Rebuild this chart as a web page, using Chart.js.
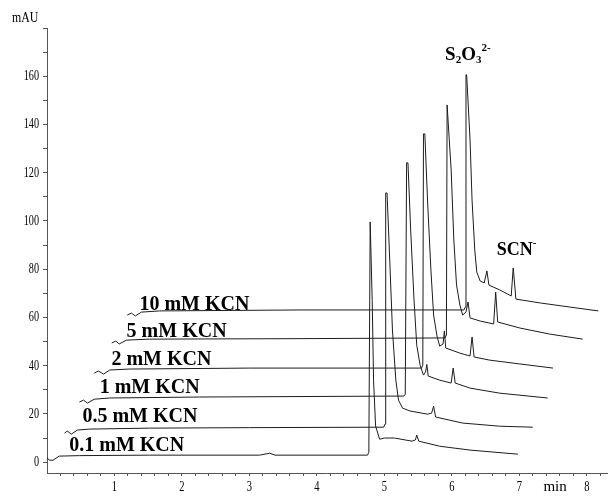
<!DOCTYPE html>
<html>
<head>
<meta charset="utf-8">
<script src="https://cdn.jsdelivr.net/npm/chart.js@4.4.1/dist/chart.umd.min.js"></script>
<style>
  html, body { margin: 0; padding: 0; background: #fff; }
  #wrap { width: 610px; height: 502px; }
  canvas { display: block; }
</style>
</head>
<body>
<div id="wrap"><canvas id="c" width="610" height="502"></canvas></div>
<script>
// KCN concentrations (mM), one chromatogram each, stacked bottom to top
const concentrations = ['0.1', '0.5', '1', '2', '5', '10'];

// Chromatograms: [retention time (min), absorbance (mAU)]
const trace01 = [[0.00,1.7],[0.04,0.8],[0.09,0.8],[0.18,2.5],[0.48,2.7],[1.52,2.9],[3.15,2.9],[3.30,3.7],[3.38,2.9],[4.75,2.9],[4.77,4.1],[4.79,99.6],[4.80,99.6],[4.82,67],[4.84,34],[4.87,15],[4.93,9.5],[5.00,10],[5.15,10],[5.41,8.7],[5.46,9.2],[5.48,11.2],[5.51,8.7],[5.82,6.6],[6.27,5.0],[6.98,3.3]];
const trace05 = [[0.26,12.0],[0.30,12.9],[0.36,11.6],[0.45,13.3],[0.63,13.7],[1.52,14.1],[3.00,14.3],[4.99,14.5],[5.01,15.8],[5.02,111.6],[5.04,111.6],[5.08,83.8],[5.12,54.8],[5.17,34],[5.21,25.7],[5.27,22.4],[5.38,21.2],[5.64,19.9],[5.70,20.3],[5.73,23.2],[5.76,18.7],[5.97,17.4],[6.16,16.2],[6.71,14.9],[7.20,14.5]];
const trace1 = [[0.48,24.9],[0.54,25.7],[0.60,24.5],[0.70,26.1],[0.93,26.6],[2.26,27.0],[5.29,27.4],[5.31,28.2],[5.33,124.1],[5.35,124.1],[5.39,96.3],[5.44,67.2],[5.48,48.5],[5.53,40.2],[5.58,36.1],[5.61,37.3],[5.63,40.5],[5.65,35.7],[5.82,34],[5.99,32.8],[6.02,39],[6.05,32.8],[6.27,30.7],[6.71,28.6],[7.42,26.6]];
const trace2 = [[0.70,36.9],[0.76,37.8],[0.84,36.5],[0.93,38.2],[1.22,38.6],[3.00,39.0],[5.55,39.0],[5.57,40.2],[5.58,136.1],[5.60,136.1],[5.64,108.7],[5.69,79.7],[5.73,61],[5.78,52.3],[5.82,48.1],[5.87,49],[5.89,54.4],[5.91,47.3],[6.12,45.2],[6.27,44],[6.30,51.9],[6.33,43.6],[6.56,42.3],[7.01,40.7],[7.50,39]];
const trace5 = [[0.96,49.4],[1.02,50.2],[1.07,49],[1.18,50.6],[1.52,51],[3.75,51.2],[5.90,51.5],[5.92,52.7],[5.93,148.1],[5.94,148.1],[5.99,121.2],[6.03,92.1],[6.07,73.4],[6.12,65.1],[6.16,61],[6.21,62.2],[6.24,66.4],[6.27,59.8],[6.42,58.5],[6.62,57.3],[6.65,70.5],[6.68,58.1],[7.01,55.6],[7.45,53.1],[7.94,51]];
const trace10 = [[1.19,61],[1.25,61.8],[1.31,60.6],[1.40,62.2],[1.67,62.7],[3.75,63.1],[6.18,63.1],[6.20,64.3],[6.21,160.6],[6.22,160.6],[6.27,133.6],[6.30,108.7],[6.34,88],[6.37,78.8],[6.42,75.1],[6.48,74.3],[6.52,79.3],[6.55,73.4],[6.71,71.4],[6.88,68.9],[6.91,80.5],[6.95,67.6],[7.31,66],[7.75,64.3],[8.17,62.7]];

const traces = [trace01, trace05, trace1, trace2, trace5, trace10];

// Axis tick labels
const yTickLabels = [0, 20, 40, 60, 80, 100, 120, 140, 160];
const xTickLabels = [1, 2, 3, 4, 5, 6, 7, 8];

// Where each trace caption sits (time, mAU), left edge / vertical middle
const captionAnchors = [[0.33, 6.6], [0.525, 18.7], [0.78, 30.7], [0.955, 42.3], [1.18, 53.9], [1.37, 65.1]];

const INK = '#1c1c1c';
const AXIS = '#555';

const datasets = traces.map((tr, i) => ({
  label: concentrations[i] + ' mM KCN',
  data: tr.map(p => ({ x: p[0], y: p[1] })),
  borderColor: INK,
  borderWidth: 1,
  pointRadius: 0,
  tension: 0,
  fill: false
}));

function condensedText(ctx, text, x, y, sx) {
  ctx.save();
  ctx.translate(x, y);
  ctx.scale(sx, 1);
  ctx.fillText(text, 0, 0);
  ctx.restore();
}

const labelsPlugin = {
  id: 'chromLabels',
  afterDraw(chart) {
    const { ctx, scales: { x, y }, chartArea } = chart;
    ctx.save();
    ctx.fillStyle = '#000';

    // y-axis numbers
    ctx.font = '15px "Liberation Serif", "DejaVu Serif", serif';
    ctx.textAlign = 'right';
    ctx.textBaseline = 'middle';
    yTickLabels.forEach(v => condensedText(ctx, String(v), chartArea.left - 8, y.getPixelForValue(v), 0.68));

    // x-axis numbers and unit
    ctx.font = '14px "Liberation Serif", "DejaVu Serif", serif';
    ctx.textAlign = 'center';
    ctx.textBaseline = 'middle';
    xTickLabels.forEach(v => condensedText(ctx, String(v), x.getPixelForValue(v), chartArea.bottom + 14, 0.75));
    ctx.font = '15px "Liberation Serif", "DejaVu Serif", serif';
    ctx.fillText('min', x.getPixelForValue(7.53), chartArea.bottom + 14);

    // y unit
    ctx.textAlign = 'left';
    ctx.font = '14px "Liberation Serif", "DejaVu Serif", serif';
    condensedText(ctx, 'mAU', 12, 18, 0.85);

    // trace captions
    ctx.font = 'bold 20px "Liberation Serif", "DejaVu Serif", serif';
    ctx.textAlign = 'left';
    ctx.textBaseline = 'middle';
    captionAnchors.forEach((a, i) => {
      ctx.fillText(concentrations[i] + ' mM KCN', x.getPixelForValue(a[0]), y.getPixelForValue(a[1]));
    });

    // peak names
    ctx.textBaseline = 'alphabetic';
    let px = x.getPixelForValue(5.9);
    const pb = y.getPixelForValue(166.7);
    const big = 'bold 19px "Liberation Serif", "DejaVu Serif", serif';
    const small = 'bold 11px "Liberation Serif", "DejaVu Serif", serif';
    const parts = [['S', big, 0], ['2', small, 3], ['O', big, 0], ['3', small, 3], ['2-', small, -9]];
    parts.forEach(([t, f, dy]) => {
      ctx.font = f;
      ctx.fillText(t, px, pb + dy);
      px += ctx.measureText(t).width;
    });

    let sx = x.getPixelForValue(6.665);
    const sb = y.getPixelForValue(85.8);
    ctx.font = 'bold 18px "Liberation Serif", "DejaVu Serif", serif';
    ctx.fillText('SCN', sx, sb);
    sx += ctx.measureText('SCN').width;
    ctx.font = 'bold 11px "Liberation Serif", "DejaVu Serif", serif';
    ctx.fillText('-', sx, sb - 9);

    ctx.restore();
  }
};

new Chart(document.getElementById('c'), {
  type: 'line',
  data: { datasets },
  options: {
    responsive: false,
    devicePixelRatio: 1,
    animation: false,
    layout: { padding: { left: 0, right: 3, top: 28, bottom: 0 } },
    plugins: { legend: { display: false }, tooltip: { enabled: false } },
    scales: {
      x: {
        type: 'linear',
        min: 0,
        max: 8.3,
        afterBuildTicks: s => {
          const t = [];
          for (let k = 1; k <= 41; k++) t.push({ value: +(k * 0.2).toFixed(1) });
          s.ticks = t;
        },
        afterFit: s => { s.height = 29; },
        ticks: { display: false },
        grid: { drawOnChartArea: false, drawTicks: true, tickLength: 3, color: AXIS, lineWidth: 1 },
        border: { display: true, color: AXIS, width: 1 }
      },
      y: {
        type: 'linear',
        min: -4.5,
        max: 180,
        afterBuildTicks: s => {
          const t = [];
          for (let v = 0; v <= 180; v += 10) t.push({ value: v });
          s.ticks = t;
        },
        afterFit: s => { s.width = 47; },
        ticks: { display: false },
        grid: { drawOnChartArea: false, drawTicks: true, tickLength: 4, color: AXIS, lineWidth: 1 },
        border: { display: true, color: AXIS, width: 1 }
      }
    }
  },
  plugins: [labelsPlugin]
});
</script>
</body>
</html>
